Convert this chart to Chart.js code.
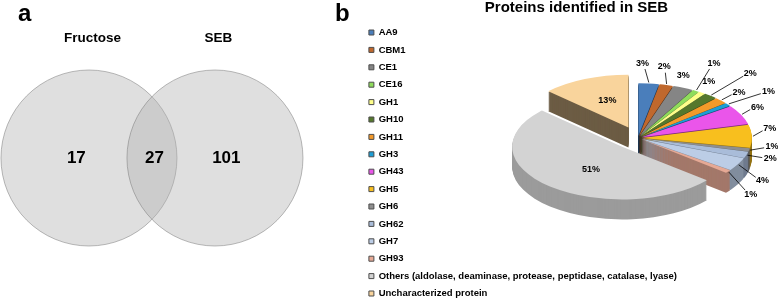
<!DOCTYPE html>
<html>
<head>
<meta charset="utf-8">
<script src="https://cdn.jsdelivr.net/npm/chart.js@4.4.1/dist/chart.umd.min.js"></script>
<style>
html, body { margin: 0; padding: 0; width: 778px; height: 300px; overflow: hidden; background: #fff; }
canvas { position: absolute; top: 0; }
#vennChart { left: 0; }
#pieChart { left: 361px; }
.panel { position: absolute; font: bold 24px 'Liberation Sans', Arial, sans-serif; line-height: 1; color: #000; }
</style>
</head>
<body>
<canvas id="vennChart" width="360" height="300"></canvas>
<canvas id="pieChart" width="431" height="312"></canvas>
<div class="panel" style="left:18px; top:1px">a</div>
<div class="panel" style="left:335px; top:1px">b</div>
<script>
// panel a - venn
const vennSets = ['Fructose', 'SEB'];
const vennCounts = [17, 27, 101]; // fructose only, shared, SEB only

// panel b - pie
const proteinLabels = ['AA9', 'CBM1', 'CE1', 'CE16', 'GH1', 'GH10', 'GH11', 'GH3', 'GH43', 'GH5', 'GH6', 'GH62', 'GH7', 'GH93',
    'Others (aldolase, deaminase, protease, peptidase, catalase, lyase)', 'Uncharacterized protein'];
const proteinShares = [3, 2, 3, 1, 1, 2, 2, 1, 6, 7, 1, 2, 4, 1, 51, 13];
const proteinColors = ['#4a7ebb', '#c0682d', '#858585', '#8fdc5c', '#ffff8a', '#55782c', '#f39a2a', '#1d9ed6',
    '#ea55ea', '#f8bf1e', '#8f8f8f', '#a9bcd9', '#bccde6', '#e6a995', '#d3d3d3', '#f9d49c'];

// layout / style only
const FONT = "'Liberation Sans', Arial, sans-serif";
const vennRegionX = [-0.1, 0.52, 1.09];
const explode = [4, 4, 4, 4, 4, 4, 4, 4, 4, 4, 4, 4, 4, 4, 24, 24];
const labelFrac = [1, 1, 1, 1, 1, 1, 1, 1, 1, 1, 1, 1, 1, 1, 0.52, 0.54];
const labelGap = [20, 18, 12, 32, 13, 40, 17, 37, 18, 19, 21, 23, 30, 33, 0, 0];
const labelTurn = [-3.6, -3, -2.4, 0.8, -0.3, 7.4, 3.7, 7.8, 0, -6, -6, -2.8, 1.5, 2.2, -8.5, 2.6];

// ===== VENN =====
const vennText = {
    id: 'vennText',
    afterDatasetsDraw(chart) {
        const {ctx, scales: {x, y}} = chart;
        const pts = chart.getDatasetMeta(0).data;
        ctx.save();
        ctx.fillStyle = '#000';
        ctx.textAlign = 'center';
        ctx.textBaseline = 'middle';
        ctx.font = 'bold 13.5px ' + FONT;
        pts.forEach((p, i) => ctx.fillText(vennSets[i], p.x + 3.5, p.y - p.options.radius - 32));
        ctx.font = 'bold 17px ' + FONT;
        vennCounts.forEach((n, i) => ctx.fillText(String(n), x.getPixelForValue(vennRegionX[i]), y.getPixelForValue(0)));
        ctx.restore();
    }
};

new Chart(document.getElementById('vennChart'), {
    type: 'bubble',
    data: {
        datasets: [{
            data: vennSets.map((s, i) => ({x: i, y: 0})),
            radius: 88,
            backgroundColor: 'rgba(178,178,178,0.42)',
            borderColor: 'rgba(120,120,120,0.5)',
            borderWidth: 1,
            clip: false
        }]
    },
    options: {
        responsive: false,
        animation: false,
        events: [],
        layout: { autoPadding: false, padding: { top: 16 } },
        plugins: { legend: { display: false }, tooltip: { enabled: false } },
        scales: {
            x: { type: 'linear', display: false, min: -0.706, max: 2.151 },
            y: { display: false, min: -1, max: 1 }
        }
    },
    plugins: [vennText]
});

// ===== 3D PIE =====
function midAngle(arc) { return (arc.startAngle + arc.endAngle) / 2; }

function shade(hex, f) {
    const n = parseInt(hex.slice(1), 16);
    const r = Math.round(((n >> 16) & 255) * f), g = Math.round(((n >> 8) & 255) * f), b = Math.round((n & 255) * f);
    return `rgb(${r},${g},${b})`;
}

const pie3d = {
    id: 'pie3d',
    beforeDatasetsDraw(chart, args, opts) {
        const ctx = chart.ctx;
        const arcs = chart.getDatasetMeta(0).data;
        const k = opts.tilt;
        // back slices first
        const order = arcs.map((a, i) => i).sort((a, b) => Math.sin(midAngle(arcs[a])) - Math.sin(midAngle(arcs[b])));

        const place = (arc, i, dy) => {
            const h = midAngle(arc);
            ctx.translate(opts.cx + Math.cos(h) * explode[i], opts.cy + dy + Math.sin(h) * explode[i] * k);
            ctx.scale(1, k);
            ctx.translate(-arc.x, -arc.y);
        };

        // side walls
        order.forEach(i => {
            const arc = arcs[i];
            const orig = arc.options;
            const f = 0.6 + 0.18 * Math.sin(midAngle(arc));
            arc.options = Object.assign({}, orig, { backgroundColor: shade(proteinColors[i], f), borderWidth: 0 });
            for (let d = opts.depth; d > 0; d--) {
                ctx.save();
                place(arc, i, d);
                arc.draw(ctx);
                ctx.restore();
            }
            arc.options = orig;
        });
        // top faces
        order.forEach(i => {
            ctx.save();
            place(arcs[i], i, 0);
            arcs[i].draw(ctx);
            ctx.restore();
        });

        // percent labels
        ctx.save();
        ctx.font = 'bold 9px ' + FONT;
        ctx.fillStyle = '#000';
        ctx.strokeStyle = '#000';
        ctx.lineWidth = 0.8;
        ctx.textAlign = 'center';
        ctx.textBaseline = 'middle';
        arcs.forEach((arc, i) => {
            const h = midAngle(arc);
            const ex = opts.cx + Math.cos(h) * explode[i];
            const ey = opts.cy + Math.sin(h) * explode[i] * k;
            const R = arc.outerRadius;
            const a = h + labelTurn[i] * Math.PI / 180;
            const lx = ex + Math.cos(a) * (R * labelFrac[i] + labelGap[i]);
            const ly = ey + Math.sin(a) * (R * k * labelFrac[i] + labelGap[i]);
            if (labelGap[i] > 0) {
                const rx = ex + Math.cos(h) * (R + 1), ry = ey + Math.sin(h) * (R * k + 1);
                const dx = lx - rx, dy = ly - ry, dist = Math.hypot(dx, dy);
                if (dist > 15) {
                    ctx.beginPath();
                    ctx.moveTo(rx, ry);
                    ctx.lineTo(lx - dx / dist * 8, ly - dy / dist * 6);
                    ctx.stroke();
                }
            }
            ctx.fillText(proteinShares[i] + '%', lx, ly);
        });
        ctx.restore();
        return false;
    }
};

new Chart(document.getElementById('pieChart'), {
    type: 'pie',
    data: {
        labels: proteinLabels,
        datasets: [{
            data: proteinShares,
            backgroundColor: proteinColors,
            borderWidth: 0,
            radius: 110,
            clip: false
        }]
    },
    options: {
        responsive: false,
        animation: false,
        events: [],
        layout: { padding: 0 },
        plugins: {
            title: {
                display: true,
                text: 'Proteins identified in SEB',
                color: '#000',
                font: { family: FONT, size: 15, weight: 'bold', lineHeight: 1 },
                padding: { top: 0, bottom: 4.85 }
            },
            legend: {
                position: 'left',
                align: 'start',
                fullSize: false,
                maxWidth: 340,
                labels: {
                    boxWidth: 5,
                    boxHeight: 5,
                    padding: 7.9,
                    color: '#000',
                    font: { family: FONT, size: 9.5, weight: 'bold' },
                    generateLabels(chart) {
                        const items = Chart.overrides.doughnut.plugins.legend.labels.generateLabels(chart);
                        return items.map(it => Object.assign(it, { strokeStyle: '#4d4d4d', lineWidth: 1 }));
                    }
                }
            },
            tooltip: { enabled: false },
            pie3d: { cx: 277, cy: 138, tilt: 0.48, depth: 20 }
        }
    },
    plugins: [pie3d]
});
</script>
</body>
</html>
